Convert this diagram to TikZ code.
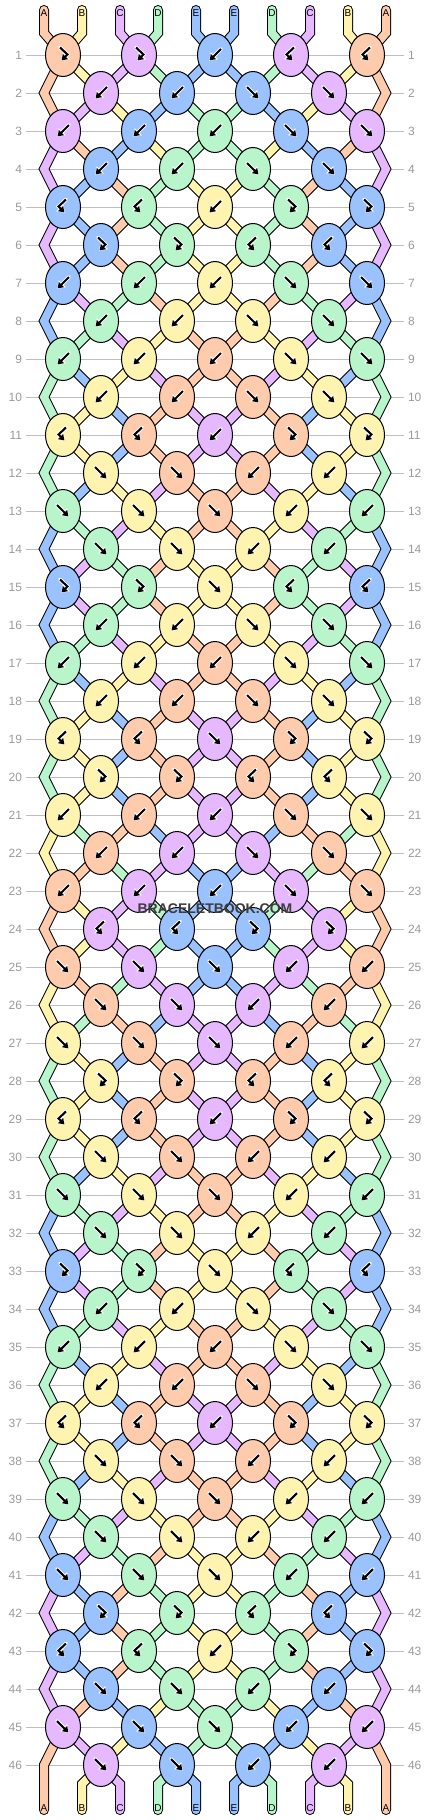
\documentclass[tikz,border=0pt]{standalone}
\usepackage{fontspec}
\setmainfont{Liberation Sans}
\usetikzlibrary{shapes.geometric,arrows.meta,backgrounds}

\definecolor{colA}{HTML}{FFCBAD}
\definecolor{colB}{HTML}{FFF3B0}
\definecolor{colC}{HTML}{E6B8FF}
\definecolor{colD}{HTML}{B9F5CB}
\definecolor{colE}{HTML}{99C2FF}
\definecolor{rowgray}{HTML}{BEBEBE}
\definecolor{numgray}{HTML}{9A9A9A}
\definecolor{brandgray}{HTML}{3D3D3D}

\begin{document}
\begin{tikzpicture}[x=1pt,y=-1pt,
		knot/.style={ellipse,draw=black,line width=1pt,fill=col#1,minimum width=35pt,minimum height=43pt,inner sep=0pt},
		cord/.style={draw=black,line width=10pt,line cap=round},
		yarn/.style={draw=col#1,line width=8pt,line cap=round},
		glyph/.style={black,line width=2.1pt,shorten >=0.8pt,-{Triangle[length=5.5pt,width=7pt]}},
		halo/.style={white,line width=3.8pt,line cap=round,-{Triangle[length=7.5pt,width=9.5pt]}},
		rownum/.style={text=numgray,font=\fontsize{12}{14}\selectfont,inner xsep=4pt,inner ysep=1pt,outer sep=0pt},
		rowline/.style={draw=rowgray,line width=1pt},
		tag/.style={font=\fontsize{10}{12}\selectfont,inner sep=0pt},
		brand/.style={text=brandgray,font=\bfseries\fontsize{14}{16}\selectfont,inner sep=1pt}]
		\useasboundingbox (0,0) rectangle (430,1820);

		% row / knots of the left half (colour/type) / strings after the row
		\def\pattern{
			1/{A/fb,C/fb,E/b}/{A,B,C,D,E},
			2/{C/b,E/b}/{A,C,B,E,D},
			3/{C/b,E/b,D/b}/{C,A,E,B,D},
			4/{E/b,D/b}/{C,E,A,D,B},
			5/{E/bf,D/bf,B/b}/{C,E,A,D,B},
			6/{E/fb,D/fb}/{C,E,A,D,B},
			7/{E/b,D/b,B/b}/{E,C,D,A,B},
			8/{D/b,B/b}/{E,D,C,B,A},
			9/{D/b,B/b,A/b}/{D,E,B,C,A},
			10/{B/b,A/b}/{D,B,E,A,C},
			11/{B/bf,A/bf,C/b}/{D,B,E,A,C},
			12/{B/f,A/f}/{D,E,B,C,A},
			13/{D/f,B/f,A/f}/{E,D,C,B,A},
			14/{D/f,B/f}/{E,C,D,A,B},
			15/{E/fb,D/fb,B/f}/{E,C,D,A,B},
			16/{D/b,B/b}/{E,D,C,B,A},
			17/{D/b,B/b,A/b}/{D,E,B,C,A},
			18/{B/b,A/b}/{D,B,E,A,C},
			19/{B/bf,A/bf,C/f}/{D,B,E,A,C},
			20/{B/fb,A/fb}/{D,B,E,A,C},
			21/{B/b,A/b,C/b}/{B,D,A,E,C},
			22/{A/b,C/b}/{B,A,D,C,E},
			23/{A/b,C/b,E/b}/{A,B,C,D,E},
			24/{C/bf,E/bf}/{A,B,C,D,E},
			25/{A/f,C/f,E/f}/{B,A,D,C,E},
			26/{A/f,C/f}/{B,D,A,E,C},
			27/{B/f,A/f,C/f}/{D,B,E,A,C},
			28/{B/fb,A/fb}/{D,B,E,A,C},
			29/{B/bf,A/bf,C/b}/{D,B,E,A,C},
			30/{B/f,A/f}/{D,E,B,C,A},
			31/{D/f,B/f,A/f}/{E,D,C,B,A},
			32/{D/f,B/f}/{E,C,D,A,B},
			33/{E/fb,D/fb,B/f}/{E,C,D,A,B},
			34/{D/b,B/b}/{E,D,C,B,A},
			35/{D/b,B/b,A/b}/{D,E,B,C,A},
			36/{B/b,A/b}/{D,B,E,A,C},
			37/{B/bf,A/bf,C/b}/{D,B,E,A,C},
			38/{B/f,A/f}/{D,E,B,C,A},
			39/{D/f,B/f,A/f}/{E,D,C,B,A},
			40/{D/f,B/f}/{E,C,D,A,B},
			41/{E/f,D/f,B/f}/{C,E,A,D,B},
			42/{E/fb,D/fb}/{C,E,A,D,B},
			43/{E/bf,D/bf,B/b}/{C,E,A,D,B},
			44/{E/f,D/f}/{C,A,E,B,D},
			45/{C/f,E/f,D/f}/{A,C,B,E,D},
			46/{C/f,E/f}/{A,B,C,D,E}}

		\def\glyphf{(-6,-6) -- (6,6)}
		\def\glyphb{(6,-6) -- (-6,6)}
		\def\glyphfb{(-3,-7.5) -- (4.5,-0.5) -- (-2,6)}
		\def\glyphbf{(3,-7.5) -- (-4.5,-0.5) -- (2,6)}
		\def\knotmark#1#2#3{%
			\expandafter\let\expandafter\gp\csname glyph#3\endcsname
			\draw[halo,shift={(#1)},xscale=#2] \gp;
			\draw[glyph,shift={(#1)},xscale=#2] \gp;}

		% knots, the right half mirrored
		\foreach \rw/\kn/\st in \pattern {
			\pgfmathsetmacro{\yy}{17+38*\rw}
			\ifodd\rw
				\foreach \cl/\tp [count=\kk from 0] in \kn {
					\pgfmathsetmacro{\xx}{63+76*\kk}
					\node[knot=\cl] (k\rw-\kk) at (\xx,\yy) {};
					\knotmark{k\rw-\kk}{1}{\tp}
					\ifnum\kk<2
						\pgfmathtruncatemacro{\mm}{4-\kk}
						\node[knot=\cl] (k\rw-\mm) at (430-\xx,\yy) {};
						\knotmark{k\rw-\mm}{-1}{\tp}
					\fi
				}
			\else
				\coordinate (k\rw-0) at (44,\yy);
				\coordinate (k\rw-5) at (386,\yy);
				\foreach \cl/\tp [count=\kk from 1] in \kn {
					\pgfmathsetmacro{\xx}{25+76*\kk}
					\pgfmathtruncatemacro{\mm}{5-\kk}
					\node[knot=\cl] (k\rw-\kk) at (\xx,\yy) {};
					\knotmark{k\rw-\kk}{1}{\tp}
					\node[knot=\cl] (k\rw-\mm) at (430-\xx,\yy) {};
					\knotmark{k\rw-\mm}{-1}{\tp}
				}
			\fi
		}

		% string ends and their letters
		\foreach \lt [count=\p from 0] in {A,B,C,D,E,E,D,C,B,A} {
			\pgfmathsetmacro{\xx}{44+38*\p}
			\coordinate (t\p) at (\xx,10);
			\coordinate (tb\p) at (\xx,33);
			\coordinate (bb\p) at (\xx,1784);
			\coordinate (b\p) at (\xx,1810);
			\node[tag] (la\p) at (\xx,13) {\lt};
			\node[tag] (lb\p) at (\xx,1808) {\lt};
		}

		% row numbers
		\foreach \rw in {1,...,46} {
			\pgfmathsetmacro{\yy}{17+38*\rw}
			\node[rownum,anchor=east] (nl\rw) at (26,\yy) {\rw};
			\node[rownum,anchor=west] (nr\rw) at (404,\yy) {\rw};
		}

		\def\strands#1{%
			\foreach \cl [count=\p from 0] in {A,B,C,D,E} {
				\pgfmathtruncatemacro{\q}{9-\p}
				\pgfmathtruncatemacro{\jj}{floor(\p/2)}
				\pgfmathtruncatemacro{\mm}{4-\jj}
				\draw[#1=\cl] (t\p) -- (tb\p) -- (k1-\jj.center);
				\draw[#1=\cl] (t\q) -- (tb\q) -- (k1-\mm.center);
			}
			\foreach \rw/\kn/\st in \pattern {
				\pgfmathtruncatemacro{\nx}{\rw+1}
				\foreach \cl [count=\p from 0] in \st {
					\pgfmathtruncatemacro{\q}{9-\p}
					\ifnum\rw<46
						\ifodd\rw
							\pgfmathtruncatemacro{\src}{floor(\p/2)}
							\pgfmathtruncatemacro{\tgt}{floor((\p+1)/2)}
							\pgfmathtruncatemacro{\msrc}{4-\src}
							\pgfmathtruncatemacro{\mtgt}{5-\tgt}
						\else
							\pgfmathtruncatemacro{\src}{floor((\p+1)/2)}
							\pgfmathtruncatemacro{\tgt}{floor(\p/2)}
							\pgfmathtruncatemacro{\msrc}{5-\src}
							\pgfmathtruncatemacro{\mtgt}{4-\tgt}
						\fi
						\ifnum\p=0
							\ifodd\rw
								\ifnum\rw=45
									\draw[#1=\cl] (k45-0.center) -- (k46-0) -- (b0);
									\draw[#1=\cl] (k45-4.center) -- (k46-5) -- (b9);
								\else
									\pgfmathtruncatemacro{\nn}{\rw+2}
									\draw[#1=\cl] (k\rw-0.center) -- (k\nx-0) -- (k\nn-0.center);
									\draw[#1=\cl] (k\rw-4.center) -- (k\nx-5) -- (k\nn-4.center);
								\fi
							\fi
						\else
							\draw[#1=\cl] (k\rw-\src.center) -- (k\nx-\tgt.center);
							\draw[#1=\cl] (k\rw-\msrc.center) -- (k\nx-\mtgt.center);
						\fi
					\else
						\ifnum\p>0
							\pgfmathtruncatemacro{\src}{floor((\p+1)/2)}
							\pgfmathtruncatemacro{\msrc}{5-\src}
							\draw[#1=\cl] (k46-\src.center) -- (bb\p) -- (b\p);
							\draw[#1=\cl] (k46-\msrc.center) -- (bb\q) -- (b\q);
						\fi
					\fi
				}
			}
		}

		\begin{scope}[on background layer]
			\fill[white] (0,0) rectangle (430,1820);
			\foreach \rw in {1,...,46}
				\draw[rowline] (nl\rw) -- (nr\rw);
			\strands{cord}
			\strands{yarn}
		\end{scope}

		\node[brand] (logo) at (215,909) {BRACELETBOOK.COM};
	\end{tikzpicture}
\end{document}
